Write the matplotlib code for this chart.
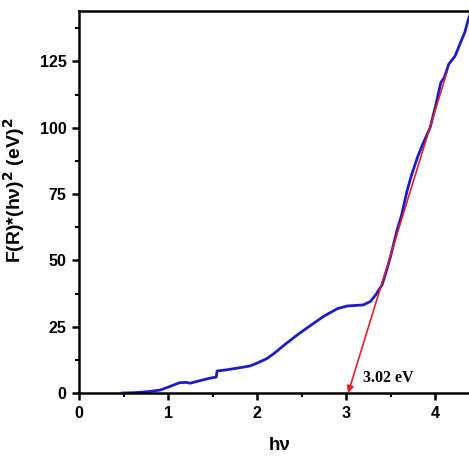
import matplotlib.pyplot as plt
import numpy as np
from matplotlib.ticker import MultipleLocator

# Tauc plot data
hv = [0.49, 0.6, 0.7, 0.8, 0.91, 1.0, 1.13, 1.2, 1.25, 1.35, 1.47, 1.54, 1.55, 1.65,
      1.78, 1.92, 2.0, 2.11, 2.2, 2.3, 2.45, 2.6, 2.75, 2.9, 3.01, 3.1, 3.19, 3.27,
      3.33, 3.4, 3.45, 3.5, 3.57, 3.62, 3.68, 3.73, 3.80, 3.86, 3.94, 4.0, 4.06,
      4.1, 4.15, 4.22, 4.28, 4.33, 4.37, 4.45]
frhv = [0.0, 0.1, 0.3, 0.6, 1.1, 2.2, 3.9, 4.0, 3.7, 4.6, 5.6, 6.0, 8.3, 8.7,
        9.4, 10.2, 11.3, 13.0, 15.2, 18.0, 21.9, 25.5, 29.0, 31.8, 32.8, 33.0, 33.2, 34.5,
        37.0, 40.7, 46.0, 52.0, 61.5, 67.0, 76.0, 82.0, 89.0, 94.0, 100.0, 108.0, 117.0,
        119.0, 124.0, 127.0, 132.0, 136.0, 141.0, 148.0]

fit_x = [3.02, 4.13]
fit_y = [0.0, 121.0]
gap = 3.02

plt.rcParams['font.family'] = ['Liberation Sans', 'DejaVu Sans']

fig = plt.figure(figsize=(4.69, 4.57), dpi=100)
ax = fig.add_axes([79/469, 64/457, 401/469, 382/457])

ax.plot(hv, frhv, color='#1c1cc8', lw=2)
ax.annotate('', xy=(fit_x[0], fit_y[0]), xytext=(fit_x[1], fit_y[1]),
            arrowprops=dict(arrowstyle='-|>', color='#e0202a', lw=1.2,
                            mutation_scale=10, shrinkA=0, shrinkB=0))
ax.text(3.19, 5.5, '%.2f eV' % gap, family='Liberation Serif', fontweight='bold',
        fontsize=11.5, va='center', ha='left')

ax.set_xlim(0, 4.5)
ax.set_ylim(0, 144)
ax.xaxis.set_major_locator(MultipleLocator(1))
ax.xaxis.set_minor_locator(MultipleLocator(0.5))
ax.yaxis.set_major_locator(MultipleLocator(25))
ax.yaxis.set_minor_locator(MultipleLocator(12.5))

for s in ax.spines.values():
    s.set_linewidth(1.8)
ax.spines['right'].set_visible(False)
ax.tick_params(which='major', direction='out', length=5, width=1.8,
               labelsize=11.5, pad=4)
ax.tick_params(which='minor', direction='out', length=3, width=1.5)
for lab in ax.get_xticklabels() + ax.get_yticklabels():
    lab.set_fontweight('bold')

ax.set_xlabel('h\u03bd', fontsize=13.5, fontweight='bold', labelpad=12)
ax.set_ylabel('F(R)*(h\u03bd)$^\\mathbf{2}$ (eV)$^\\mathbf{2}$', fontsize=14,
              fontweight='bold')
ax.yaxis.set_label_coords(-0.13, 0.53)

fig.savefig('out.png', dpi=100)
